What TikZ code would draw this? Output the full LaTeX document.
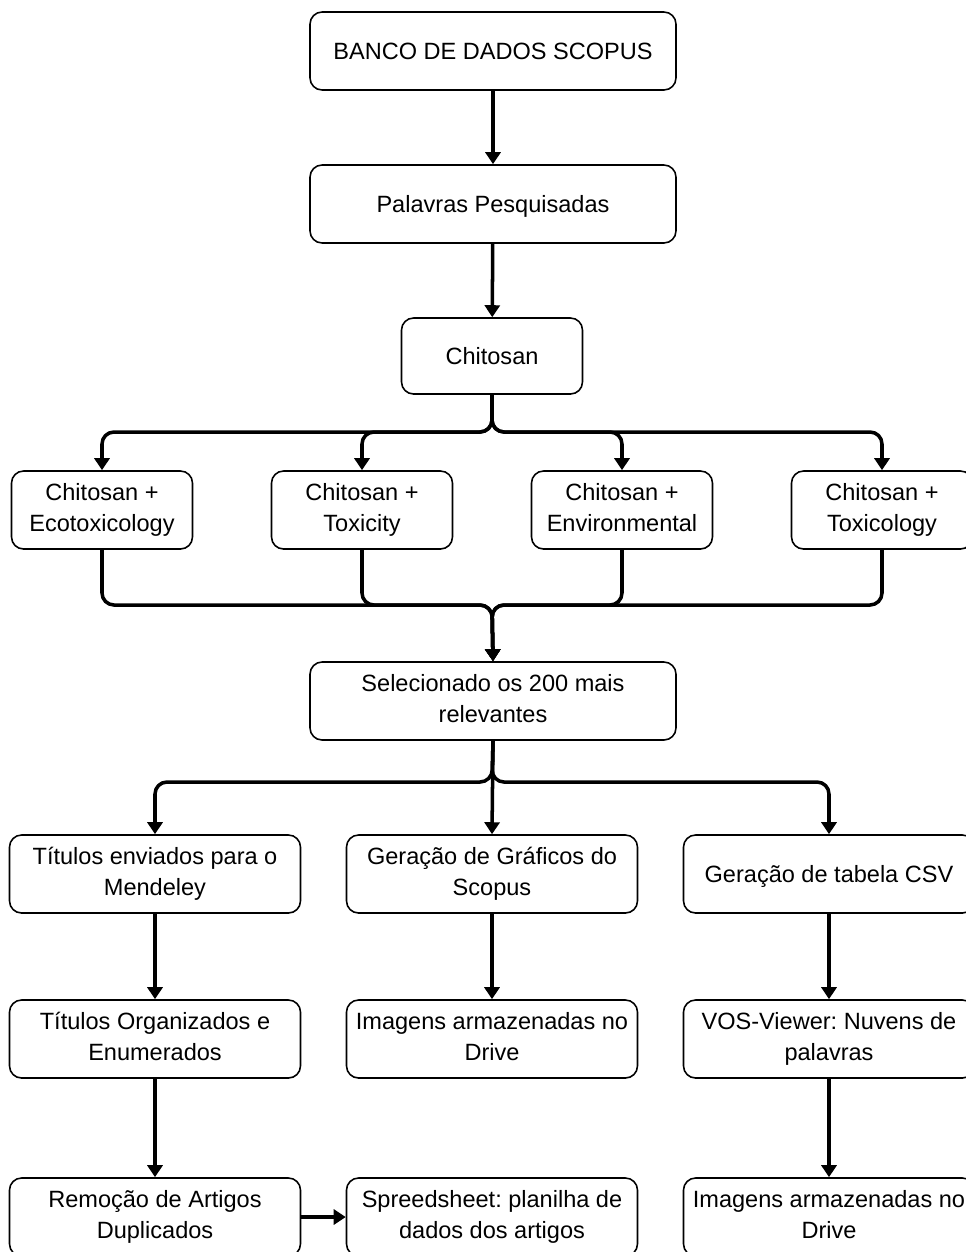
\documentclass[tikz,border=0pt]{standalone}
\usepackage{fontspec}
\setmainfont{Liberation Sans}
\usetikzlibrary{arrows.meta}
\newcommand\boxstrut{\rule[-3pt]{0pt}{15.6pt}}
\begin{document}
\frenchspacing
\begin{tikzpicture}[x=0.02cm, y=-0.02cm, every node/.style={font=\fontsize{13.4}{17.6}\selectfont}]
        \tikzset{
            box/.style={draw,rounded corners=0.24cm,line width=0.9pt,align=center,inner sep=2pt,minimum height=1.56cm,
                execute at begin node=\boxstrut,execute at end node=\boxstrut},
            wide/.style={box,minimum width=7.32cm},
            narrow/.style={box,minimum width=3.62cm},
            mid/.style={box,minimum width=5.82cm},
            conn/.style={line width=2pt,rounded corners=0.24cm,-{Triangle[width=0.3cm,length=0.24cm]}}
        }
        \useasboundingbox (0,0) rectangle (966,1252);
        \clip (0,0) rectangle (966,1252);
        \node[wide] (banco) at (493,51) {BANCO DE DADOS SCOPUS};
        \node[wide] (palavras) at (493,204) {Palavras Pesquisadas};
        \node[narrow,minimum height=1.52cm] (chit) at (492,356) {Chitosan};
        \node[narrow] (eco) at (102,510) {Chitosan +\\Ecotoxicology};
        \node[narrow] (tox) at (362,510) {Chitosan +\\Toxicity};
        \node[narrow] (env) at (622,510) {Chitosan +\\Environmental};
        \node[narrow] (toxl) at (882,510) {Chitosan +\\Toxicology};
        \node[wide] (sel) at (493,701) {Selecionado os 200 mais\\relevantes};
        \node[mid] (tit) at (155,874) {Títulos enviados para o\\Mendeley};
        \node[mid] (graf) at (492,874) {Geração de Gráficos do\\Scopus};
        \node[mid] (csv) at (829,874) {Geração de tabela CSV};
        \node[mid] (org) at (155,1039) {Títulos Organizados e\\Enumerados};
        \node[mid] (img) at (492,1039) {Imagens armazenadas no\\Drive};
        \node[mid] (vos) at (829,1039) {VOS-Viewer: Nuvens de\\palavras};
        \node[mid] (rem) at (155,1217) {Remoção de Artigos\\Duplicados};
        \node[mid] (spr) at (492,1217) {Spreedsheet: planilha de\\dados dos artigos};
        \node[mid] (drv) at (829,1217) {Imagens armazenadas no\\Drive};
        \coordinate (split1) at (492,432);
        \coordinate (merge) at (492,605);
        \coordinate (split2) at (492,782);
        \draw[conn] (banco) -- (palavras);
        \draw[conn] (palavras) -- (chit);
        \foreach \n in {eco,tox,env,toxl} {
            \draw[conn] (chit.south) -- (split1) -| (\n.north);
            \draw[conn] (\n.south) |- (merge) -- (sel.north);
        }
        \draw[conn] (sel.south) -- (split2) -| (tit.north);
        \draw[conn] (sel.south) -- (graf.north);
        \draw[conn] (sel.south) -- (split2) -| (csv.north);
        \draw[conn] (tit) -- (org);
        \draw[conn] (graf) -- (img);
        \draw[conn] (csv) -- (vos);
        \draw[conn] (org) -- (rem);
        \draw[conn] (vos) -- (drv);
        \draw[conn] (rem) -- (spr);
    \end{tikzpicture}
\end{document}
